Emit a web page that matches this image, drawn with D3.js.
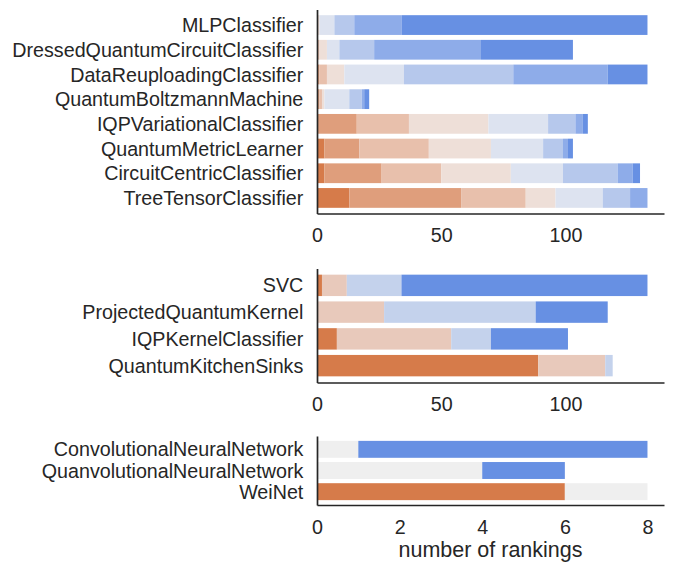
<!DOCTYPE html>
<html>
<head>
<meta charset="utf-8">
<script src="https://cdn.jsdelivr.net/npm/d3@7"></script>
<style>
  body { margin: 0; background: #fff; }
</style>
</head>
<body>
<div id="chart"></div>
<script>
// models in each panel (top to bottom)
const variationalModels = ["MLPClassifier", "DressedQuantumCircuitClassifier", "DataReuploadingClassifier",
  "QuantumBoltzmannMachine", "IQPVariationalClassifier", "QuantumMetricLearner",
  "CircuitCentricClassifier", "TreeTensorClassifier"];
const kernelModels = ["SVC", "ProjectedQuantumKernel", "IQPKernelClassifier", "QuantumKitchenSinks"];
const convModels = ["ConvolutionalNeuralNetwork", "QuanvolutionalNeuralNetwork", "WeiNet"];

// number of rankings per rank position (left to right)
const variationalCounts = [
  [0, 0, 0, 1, 6, 8, 19, 99],
  [0, 0, 1, 3, 5, 14, 43, 37],
  [0, 1, 3, 7, 24, 44, 38, 16],
  [0, 1, 1, 1, 10, 5, 1, 2],
  [0, 16, 21, 32, 24, 11, 3, 2],
  [3, 14, 28, 25, 21, 8, 2, 2],
  [3, 23, 24, 28, 21, 22, 6, 3],
  [13, 45, 26, 12, 19, 11, 7, 0]
];
const kernelCounts = [
  [2, 10, 22, 99],
  [0, 27, 61, 29],
  [8, 46, 16, 31],
  [89, 27, 3, 0]
];
const convCounts = [
  [0, 1, 7],
  [0, 4, 2],
  [6, 2, 0]
];

const variationalTicks = [0, 50, 100];
const kernelTicks = [0, 50, 100];
const convTicks = [0, 2, 4, 6, 8];

const colors8 = ["#d67b4a", "#df9e7c", "#e8c0ac", "#eedfd8", "#dde3f0", "#b6c8ec", "#8eace9", "#6790e3"];
const colors4 = ["#d67b4a", "#e8c9bb", "#c4d2ec", "#6790e3"];
const colors3 = ["#d67b4a", "#efefef", "#6790e3"];

const width = 673, height = 573;
const left = 317, right = 664;
const textColor = "#262626";
const font = "'Liberation Sans', Arial, sans-serif";

const svg = d3.select("#chart")
  .append("svg")
    .attr("width", width)
    .attr("height", height);

function panel(models, counts, colors, xmax, ticks, top, bottom) {
  const x = d3.scaleLinear()
    .domain([0, xmax * 1.05])
    .range([left, right]);

  const y = d3.scaleBand()
    .domain(models)
    .range([top, bottom])
    .paddingInner(0.2)
    .paddingOuter(0.23);

  // stack the counts into segments
  const segs = [];
  models.forEach((m, i) => {
    let acc = 0;
    counts[i].forEach((c, k) => {
      segs.push({model: m, x0: acc, x1: acc + c, k: k});
      acc += c;
    });
  });

  const g = svg.append("g");

  g.selectAll("rect")
    .data(segs.filter(d => d.x1 > d.x0))
    .join("rect")
      .attr("x", d => x(d.x0))
      .attr("y", d => y(d.model))
      .attr("width", d => x(d.x1) - x(d.x0))
      .attr("height", y.bandwidth())
      .attr("fill", d => colors[d.k]);

  // x axis
  const xa = g.append("g")
    .attr("transform", `translate(0, ${bottom})`)
    .call(d3.axisBottom(x).tickValues(ticks).tickSize(0).tickSizeOuter(0).tickPadding(15));
  xa.selectAll("text")
    .attr("font-family", font)
    .attr("font-size", "19.7px")
    .attr("fill", textColor);

  // y axis
  const ya = g.append("g")
    .attr("transform", `translate(${left}, 0)`)
    .call(d3.axisLeft(y).tickSize(0).tickSizeOuter(0).tickPadding(13.7));
  ya.selectAll("text")
    .attr("dy", "0.36em")
    .attr("font-family", font)
    .attr("font-size", "19.7px")
    .attr("fill", textColor);

  g.selectAll(".domain")
    .attr("stroke", textColor)
    .attr("stroke-width", 1.7);
  return x;
}

panel(variationalModels, variationalCounts, colors8, 133, variationalTicks, 9.5, 213.5);
panel(kernelModels, kernelCounts, colors4, 133, kernelTicks, 268.5, 382.5);
panel(convModels, convCounts, colors3, 8, convTicks, 436, 505);

// x axis label
svg.append("text")
  .attr("x", (left + right) / 2)
  .attr("y", 557.3)
  .attr("text-anchor", "middle")
  .attr("font-family", font)
  .style("font-size", "21.5px")
  .attr("fill", textColor)
  .text("number of rankings");
</script>
</body>
</html>
